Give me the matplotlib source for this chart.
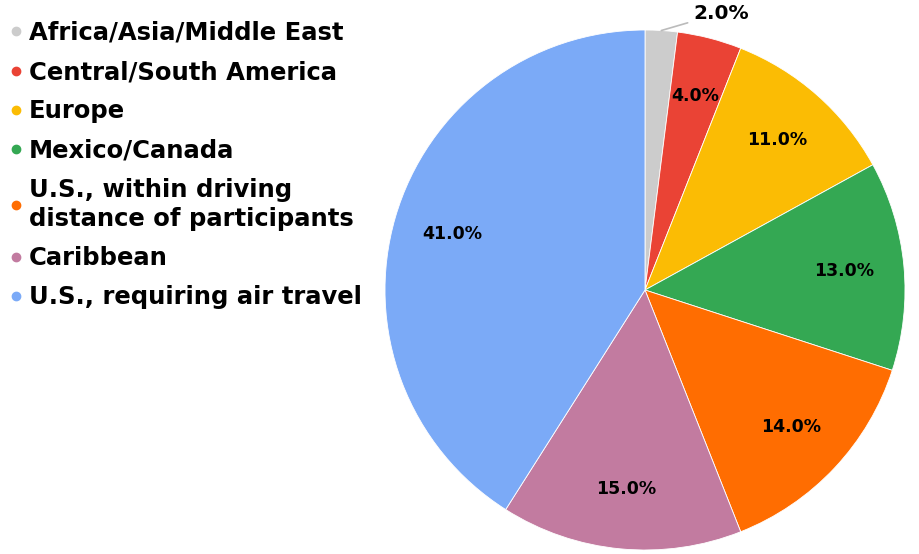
import matplotlib.pyplot as plt
from matplotlib.lines import Line2D
import numpy as np

# datos del grafico
categorias = ["Africa/Asia/Middle East", "Central/South America", "Europe",
              "Mexico/Canada", "U.S., within driving\ndistance of participants",
              "Caribbean", "U.S., requiring air travel"]
valores = [2.0, 4.0, 11.0, 13.0, 14.0, 15.0, 41.0]
colores = ["#cccccc", "#ea4335", "#fbbc04", "#34a853", "#ff6d01", "#c27ba0", "#7baaf7"]

plt.rcParams['font.family'] = ['DejaVu Sans']

fig = plt.figure(figsize=(9.2, 5.54), dpi=100)
ax = fig.add_axes([385 / 920, 4 / 554, 520 / 920, 520 / 554])

wedges, textos, pcts = ax.pie(valores, colors=colores, startangle=90, counterclock=False,
                              autopct='%1.1f%%', pctdistance=0.77, radius=1,
                              wedgeprops=dict(edgecolor='white', linewidth=0.6),
                              textprops=dict(fontsize=12.5, fontweight='bold', color='black'))
ax.set_xlim(-1, 1)
ax.set_ylim(-1, 1)
ax.set_aspect('equal')

# la porcion pequeña lleva la etiqueta fuera con una linea
w = wedges[0]
ang = np.deg2rad((w.theta1 + w.theta2) / 2)
pcts[0].set_visible(False)
ax.annotate('%1.1f%%' % valores[0], xy=(np.cos(ang), np.sin(ang)), xytext=(0.185, 1.065),
            ha='left', va='center', fontsize=14.5, fontweight='bold',
            arrowprops=dict(arrowstyle='-', color='#bbbbbb', lw=1.2, shrinkA=2, shrinkB=0),
            annotation_clip=False)

manejadores = [Line2D([0], [0], marker='o', color='w', markerfacecolor=c, markeredgecolor=c,
                      markersize=6) for c in colores]
leg = fig.legend(manejadores, categorias, loc='upper left', bbox_to_anchor=(0.0, 0.98),
                 frameon=False, handlelength=0.5, handletextpad=0.3, labelspacing=0.63,
                 borderaxespad=0.1, borderpad=0.3, prop=dict(size=17.5, weight='bold'))
for t in leg.get_texts():
    t.set_linespacing(1.25)

plt.savefig('out.png', dpi=100)
plt.close()
